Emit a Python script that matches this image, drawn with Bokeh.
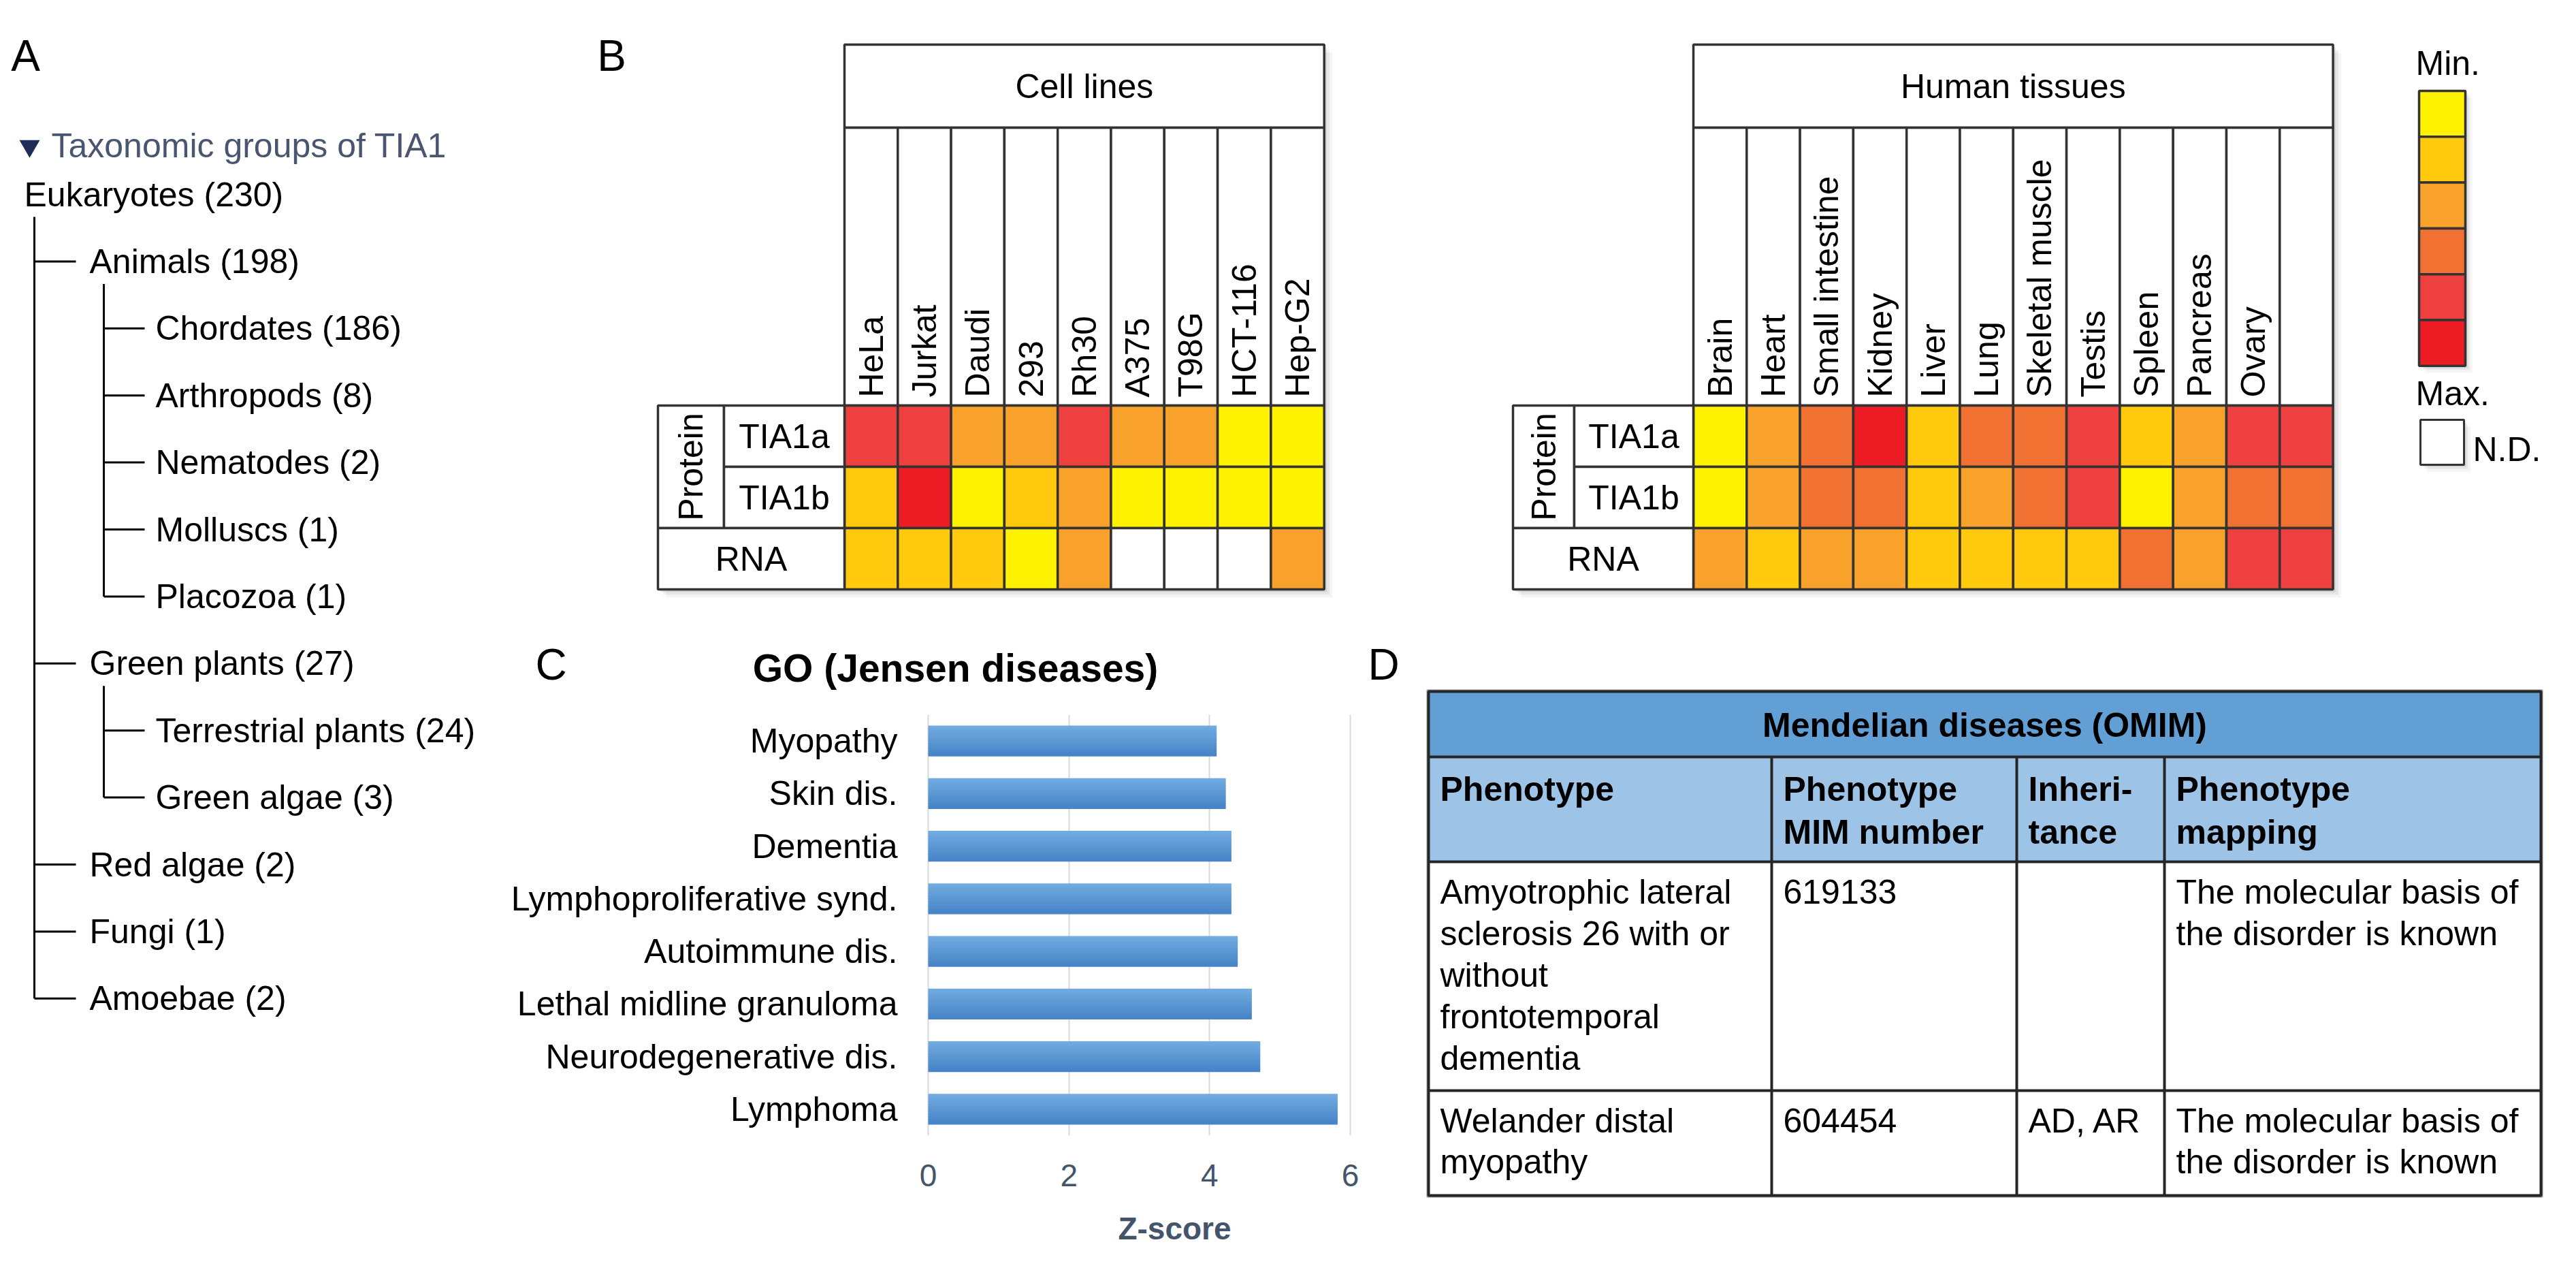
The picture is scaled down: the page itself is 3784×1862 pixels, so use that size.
import math
from bokeh.plotting import figure
from bokeh.layouts import row, column
from bokeh.models import Range1d, FactorRange, FixedTicker
from bokeh.embed import file_html
from bokeh.resources import INLINE
from bokeh.core.properties import value

FONT = "Liberation Sans"
LINE = "#333333"

# ---------------- data ----------------
panel_letters = ["A", "B", "C", "D"]

tax_title = "Taxonomic groups of TIA1"
tax_names = ["Eukaryotes", "Animals", "Chordates", "Arthropods", "Nematodes", "Molluscs",
             "Placozoa", "Green plants", "Terrestrial plants", "Green algae", "Red algae",
             "Fungi", "Amoebae"]
tax_counts = [230, 198, 186, 8, 2, 1, 1, 27, 24, 3, 2, 1, 2]
tax_levels = [0, 1, 2, 2, 2, 2, 2, 1, 2, 2, 1, 1, 1]

cell_lines = ["HeLa", "Jurkat", "Daudi", "293", "Rh30", "A375", "T98G", "HCT-116", "Hep-G2"]
tissues = ["Brain", "Heart", "Small intestine", "Kidney", "Liver", "Lung", "Skeletal muscle",
           "Testis", "Spleen", "Pancreas", "Ovary", ""]
row_labels = ["TIA1a", "TIA1b", "RNA"]
# expression level: 1 = Min ... 6 = Max, 0 = N.D.
cell_tia1a = [5, 5, 3, 3, 5, 3, 3, 1, 1]
cell_tia1b = [2, 6, 1, 2, 3, 1, 1, 1, 1]
cell_rna = [2, 2, 2, 1, 3, 0, 0, 0, 3]
tis_tia1a = [1, 3, 4, 6, 2, 4, 4, 5, 2, 3, 5, 5]
tis_tia1b = [1, 3, 4, 4, 2, 3, 4, 5, 1, 3, 4, 4]
tis_rna = [3, 2, 3, 3, 2, 2, 2, 2, 4, 3, 5, 5]
level_colors = ["#FFFFFF", "#FFF200", "#FFC90E", "#F8A12B", "#F07132", "#EF4040", "#ED1C24"]
legend_levels = [1, 2, 3, 4, 5, 6]

go_title = "GO (Jensen diseases)"
go_terms = ["Myopathy", "Skin dis.", "Dementia", "Lymphoproliferative synd.", "Autoimmune dis.",
            "Lethal midline granuloma", "Neurodegenerative dis.", "Lymphoma"]
go_z = [4.10, 4.23, 4.31, 4.31, 4.40, 4.60, 4.72, 5.82]
go_ticks = [0, 2, 4, 6]
go_xlabel = "Z-score"

omim_title = "Mendelian diseases (OMIM)"
omim_headers = ["Phenotype", "Phenotype\nMIM number", "Inheri-\ntance", "Phenotype\nmapping"]
omim_phenotype = ["Amyotrophic lateral\nsclerosis 26 with or\nwithout\nfrontotemporal\ndementia",
                  "Welander distal\nmyopathy"]
omim_mim = ["619133", "604454"]
omim_inheritance = ["", "AD, AR"]
omim_mapping = ["The molecular basis of\nthe disorder is known",
                "The molecular basis of\nthe disorder is known"]


def make_fig(x0, x1, y0, y1):
    p = figure(width=int(round(x1 - x0)), height=int(round(y1 - y0)),
               x_range=Range1d(x0, x1), y_range=Range1d(y1, y0),
               x_axis_location=None, y_axis_location=None,
               output_backend="svg", toolbar_location=None, min_border=0)
    p.grid.visible = False
    p.outline_line_color = None
    p.background_fill_color = "white"
    p.border_fill_color = "white"
    return p


def txt(p, x, y, s, size=50, align="left", base="middle", color="black", bold=False, angle=0):
    p.text(x=x if isinstance(x, list) else [x], y=y if isinstance(y, list) else [y],
           text=s if isinstance(s, list) else [s], text_font=value(FONT),
           text_font_size=f"{size}px", text_align=align, text_baseline=base,
           text_color=color, text_font_style="bold" if bold else "normal", angle=angle)


# ---------------- panel A ----------------
pa = make_fig(8, 730, 8, 1854)
txt(pa, 45, 89, panel_letters[0], size=64, align="center")
pa.scatter(x=[51], y=[222], marker="inverted_triangle", size=30, fill_color="#1F2D5A",
           line_color=None)
txt(pa, 83, 221, tax_title, color="#4A5670")

row0, row_step = 293, 98.4
text_x = [43, 139, 236]
branch_x = [58, 160]
tip_x = [119, 220]
ys = [row0 + i * row_step for i in range(len(tax_names))]
labels = [f"{n} ({c})" for n, c in zip(tax_names, tax_counts)]
txt(pa, [text_x[l] for l in tax_levels], ys, labels)

hx0, hx1, hy = [], [], []
for i, l in enumerate(tax_levels):
    if l > 0:
        hx0.append(branch_x[l - 1]); hx1.append(tip_x[l - 1]); hy.append(ys[i])
pa.segment(x0=hx0, x1=hx1, y0=hy, y1=hy, line_color="black", line_width=3)
vx, vy0, vy1 = [], [], []
for i, l in enumerate(tax_levels):
    last = None
    for j in range(i + 1, len(tax_levels)):
        if tax_levels[j] <= l:
            break
        if tax_levels[j] == l + 1:
            last = j
    if last is not None:
        vx.append(branch_x[l]); vy0.append(ys[i] + 33); vy1.append(ys[last])
pa.segment(x0=vx, x1=vx, y0=vy0, y1=vy1, line_color="black", line_width=3)

# ---------------- panel B ----------------
pb = make_fig(730, 3776, 8, 930)
txt(pb, 906, 89, panel_letters[1], size=64, align="center")

COL_W, ROW_H = 78.3, 90
HEAD_T, HEAD_B, CELL_T = 73, 195, 603


def heat_block(p, x_left, x_sep, x_heat, cols, title, rows):
    n = len(cols)
    right = x_heat + n * COL_W
    bottom = CELL_T + 3 * ROW_H
    for off, a in [(12, 0.04), (8, 0.06), (4, 0.08)]:
        p.quad(left=[x_heat + off, x_left + off], right=[right + off, right + off],
               top=[HEAD_T + off, CELL_T + off], bottom=[CELL_T + off, bottom + off],
               fill_color="black", fill_alpha=a, line_color=None)
    p.quad(left=[x_heat], right=[right], top=[HEAD_T], bottom=[HEAD_B],
           fill_color="white", line_color=LINE, line_width=3.5)
    txt(p, (x_heat + right) / 2, (HEAD_T + HEAD_B) / 2, title, align="center")
    lefts = [x_heat + i * COL_W for i in range(n)]
    p.quad(left=lefts, right=[l + COL_W for l in lefts], top=[HEAD_B] * n, bottom=[CELL_T] * n,
           fill_color="white", line_color=LINE, line_width=3.5)
    txt(p, [l + COL_W / 2 for l in lefts], [CELL_T - 12] * n, cols, align="left",
        base="middle", angle=math.pi / 2)
    cl, cr, ct, cb, cc = [], [], [], [], []
    for r, vals in enumerate(rows):
        for i, v in enumerate(vals):
            cl.append(lefts[i]); cr.append(lefts[i] + COL_W)
            ct.append(CELL_T + r * ROW_H); cb.append(CELL_T + (r + 1) * ROW_H)
            cc.append(level_colors[v])
    p.quad(left=cl, right=cr, top=ct, bottom=cb, fill_color=cc, line_color=LINE, line_width=3.5)
    p.quad(left=[x_left, x_sep, x_sep, x_left], right=[x_sep, x_heat, x_heat, x_heat],
           top=[CELL_T, CELL_T, CELL_T + ROW_H, CELL_T + 2 * ROW_H],
           bottom=[CELL_T + 2 * ROW_H, CELL_T + ROW_H, CELL_T + 2 * ROW_H, bottom],
           fill_color="white", line_color=LINE, line_width=3.5)
    txt(p, (x_left + x_sep) / 2, CELL_T + ROW_H, "Protein", align="center", angle=math.pi / 2)
    txt(p, [(x_sep + x_heat) / 2] * 2, [CELL_T + ROW_H / 2, CELL_T + 1.5 * ROW_H],
        row_labels[:2], align="center")
    txt(p, (x_left + x_heat) / 2, CELL_T + 2.5 * ROW_H, row_labels[2], align="center")


heat_block(pb, 974, 1071, 1248, cell_lines, "Cell lines", [cell_tia1a, cell_tia1b, cell_rna])
heat_block(pb, 2230, 2320, 2495, tissues, "Human tissues", [tis_tia1a, tis_tia1b, tis_rna])

LG_L, LG_R, LG_T, LG_H = 3561, 3629, 141, 67.3
nl = len(legend_levels)
for off, a in [(10, 0.04), (6, 0.06), (3, 0.08)]:
    pb.quad(left=[LG_L + off, 3563 + off], right=[LG_R + off, 3627 + off],
            top=[LG_T + off, 624 + off], bottom=[LG_T + nl * LG_H + off, 690 + off],
            fill_color="black", fill_alpha=a, line_color=None)
pb.quad(left=[LG_L] * nl, right=[LG_R] * nl, top=[LG_T + k * LG_H for k in range(nl)],
        bottom=[LG_T + (k + 1) * LG_H for k in range(nl)],
        fill_color=[level_colors[v] for v in legend_levels], line_color=LINE, line_width=3.5)
pb.quad(left=[3563], right=[3627], top=[624], bottom=[690], fill_color="white",
        line_color=LINE, line_width=3)
txt(pb, 3556, 100, "Min.")
txt(pb, 3556, 585, "Max.")
txt(pb, 3640, 667, "N.D.")

# ---------------- panel C ----------------
FR_L, FR_R, FR_T, FR_B = 1371, 1991, 1057, 1675   # pixel positions of value 0 / 6 and bar area
C_X0, C_X1, C_Y0, C_Y1 = 730, 2012, 930, 1854
AX_B = 1775                                         # bottom of tick-label strip

px_per_x = (FR_R - FR_L) / (go_ticks[-1] - go_ticks[0])


def cx(px):
    return (px - FR_L) / px_per_x


pc_head = make_fig(C_X0, C_X1, C_Y0, FR_T)
txt(pc_head, 817, 983, panel_letters[2], size=64, align="center")
txt(pc_head, 1411, 988, go_title, size=57, align="center", bold=True)

pc = figure(width=C_X1 - C_X0, height=AX_B - FR_T,
            y_range=FactorRange(factors=go_terms[::-1], range_padding=0),
            x_range=Range1d(cx(C_X0), cx(C_X1)), y_axis_location=None,
            output_backend="svg", toolbar_location=None,
            min_border_left=0, min_border_right=0, min_border_top=0,
            min_border_bottom=AX_B - FR_B)
pc.outline_line_color = None
BAR_H = 0.57
n_stripes = 12
grad_top, grad_bot = (0x70, 0xAA, 0xDF), (0x47, 0x85, 0xC8)
for s in range(n_stripes):
    t = s / (n_stripes - 1)
    col = "#%02X%02X%02X" % tuple(int(round(a + (b - a) * t)) for a, b in zip(grad_top, grad_bot))
    off = BAR_H / 2 - (s + 0.5) * BAR_H / n_stripes
    pc.hbar(y=[(term, off) for term in go_terms], left=0, right=go_z,
            height=BAR_H / n_stripes * 1.3, fill_color=col, line_color=None)
pc.text(x=[cx(1326)] * len(go_terms), y=go_terms, text=go_terms, text_font=value(FONT),
        text_font_size="50px", text_align="right", text_baseline="middle", text_color="black")
pc.ygrid.visible = False
pc.xgrid.grid_line_color = "#D9D9D9"
pc.xgrid.grid_line_width = 2
pc.xaxis.ticker = FixedTicker(ticks=go_ticks)
pc.xaxis.axis_line_color = None
pc.xaxis.major_tick_line_color = None
pc.xaxis.minor_tick_line_color = None
pc.xaxis.major_label_text_font = FONT
pc.xaxis.major_label_text_font_size = "46px"
pc.xaxis.major_label_text_color = "#44546A"
pc.xaxis.major_label_standoff = 36

pc_foot = make_fig(C_X0, C_X1, AX_B, C_Y1)
txt(pc_foot, 1733, 1811, go_xlabel, size=46, align="center", bold=True, color="#44546A")

# ---------------- panel D ----------------
pd_ = make_fig(2012, 3776, 930, 1854)
txt(pd_, 2040, 983, panel_letters[3], size=64, align="center")
T_L, T_R = 2106, 3740
col_lefts = [2106, 2610, 2970, 3187]
T_TOP, B1, B2, R1, R2 = 1023, 1119, 1273, 1609, 1763
pd_.quad(left=[T_L] * 4, right=[T_R] * 4, top=[T_TOP, B1, B2, R1],
         bottom=[B1, B2, R1, R2], fill_color=["#629FD5", "#9DC3E6", "white", "white"],
         line_color=None)
pd_.segment(x0=[T_L] * 3, x1=[T_R] * 3, y0=[B1, B2, R1], y1=[B1, B2, R1],
            line_color="#262626", line_width=4)
vxs = col_lefts[1:]
pd_.segment(x0=vxs, x1=vxs, y0=[B1] * 3, y1=[R2] * 3, line_color="#262626", line_width=4)
pd_.quad(left=[T_L - 2], right=[T_R + 2], top=[T_TOP - 2], bottom=[R2 + 2], fill_color=None,
         line_color="#8C8C8C", line_width=2)
pd_.quad(left=[T_L], right=[T_R], top=[T_TOP], bottom=[R2], fill_color=None,
         line_color="#262626", line_width=4)
txt(pd_, (T_L + T_R) / 2, 1072, omim_title, align="center", bold=True)

PAD = 17


def cell_text(p, col, y0, step, s, bold=False):
    lines = s.split("\n")
    txt(p, [col_lefts[col] + PAD] * len(lines), [y0 + k * step for k in range(len(lines))],
        lines, bold=bold)


for c, h in enumerate(omim_headers):
    cell_text(pd_, c, 1166, 63, h, bold=True)
for r, (y0, st) in enumerate([(1317, 61), (1653, 60)]):
    cell_text(pd_, 0, y0, st, omim_phenotype[r])
    cell_text(pd_, 1, y0, st, omim_mim[r])
    if omim_inheritance[r]:
        cell_text(pd_, 2, y0, st, omim_inheritance[r])
    cell_text(pd_, 3, y0, st, omim_mapping[r])

layout = row(pa, column(pb, row(column(pc_head, pc, pc_foot), pd_)))
open("out.html", "w").write(file_html(layout, INLINE))
